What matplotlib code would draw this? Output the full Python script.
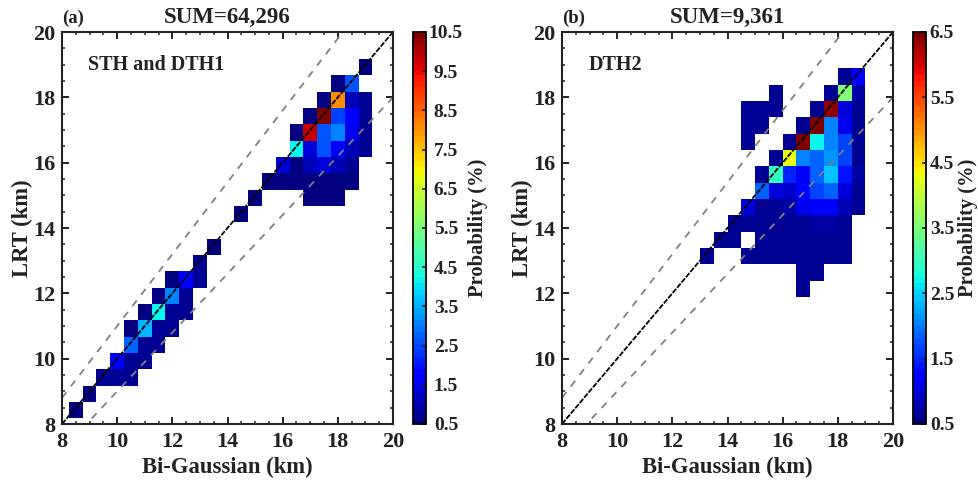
import numpy as np
import matplotlib
matplotlib.use("Agg")
import matplotlib.pyplot as plt
plt.rcParams["font.family"]=["Liberation Serif","DejaVu Serif"]
plt.rcParams["font.weight"]="bold"
n=np.nan
# probability (%), rows from top to bottom, columns left to right
xstart_a=8.25
ystart_a=8.17
vals_a=[
[n,n,n,n,n,n,n,n,n,n,n,n,n,n,n,n,n,n,n,n,n,0.6],
[n,n,n,n,n,n,n,n,n,n,n,n,n,n,n,n,n,n,n,0.6,2.6,n],
[n,n,n,n,n,n,n,n,n,n,n,n,n,n,n,n,n,n,0.6,8.0,1.1,0.7],
[n,n,n,n,n,n,n,n,n,n,n,n,n,n,n,n,n,0.6,10.5,2.5,1.6,0.7],
[n,n,n,n,n,n,n,n,n,n,n,n,n,n,n,n,0.6,9.8,2.6,3.0,1.5,0.7],
[n,n,n,n,n,n,n,n,n,n,n,n,n,n,n,n,4.2,1.4,2.6,1.7,1.1,0.7],
[n,n,n,n,n,n,n,n,n,n,n,n,n,n,n,1.4,0.6,1.0,1.3,1.0,0.8,n],
[n,n,n,n,n,n,n,n,n,n,n,n,n,n,0.6,0.6,0.6,0.6,0.6,0.6,0.6,n],
[n,n,n,n,n,n,n,n,n,n,n,n,n,0.6,n,n,n,0.6,0.6,0.6,n,n],
[n,n,n,n,n,n,n,n,n,n,n,n,0.6,n,n,n,n,n,n,n,n,n],
[n]*22,
[n,n,n,n,n,n,n,n,n,n,0.6,n,n,n,n,n,n,n,n,n,n,n],
[n,n,n,n,n,n,n,n,n,0.7,n,n,n,n,n,n,n,n,n,n,n,n],
[n,n,n,n,n,n,n,0.6,1.7,0.7,n,n,n,n,n,n,n,n,n,n,n,n],
[n,n,n,n,n,n,0.6,3.0,0.7,n,n,n,n,n,n,n,n,n,n,n,n,n],
[n,n,n,n,n,0.6,4.2,0.7,0.7,n,n,n,n,n,n,n,n,n,n,n,n,n],
[n,n,n,n,0.6,3.6,0.7,0.7,n,n,n,n,n,n,n,n,n,n,n,n,n,n],
[n,n,n,n,2.7,0.7,0.7,n,n,n,n,n,n,n,n,n,n,n,n,n,n,n],
[n,n,n,1.6,0.7,0.7,n,n,n,n,n,n,n,n,n,n,n,n,n,n,n,n],
[n,n,0.8,0.7,0.7,n,n,n,n,n,n,n,n,n,n,n,n,n,n,n,n,n],
[n,0.6,n,n,n,n,n,n,n,n,n,n,n,n,n,n,n,n,n,n,n,n],
[0.6,n,n,n,n,n,n,n,n,n,n,n,n,n,n,n,n,n,n,n,n,n],
]
xstart_b=13.0
ystart_b=11.89
vals_b=[
[n,n,n,n,n,n,n,n,n,n,0.6,1.16],
[n,n,n,n,n,0.6,n,n,n,0.6,3.5,0.7],
[n,n,n,0.6,0.6,0.6,n,n,0.6,6.4,1.0,0.6],
[n,n,n,0.6,0.6,n,n,0.6,6.5,2.0,1.15,0.6],
[n,n,n,0.6,n,n,0.6,6.5,2.7,2.0,1.65,0.6],
[n,n,n,n,n,0.6,4.3,2.05,1.9,2.1,1.7,0.6],
[n,n,n,n,0.6,3.0,1.5,1.2,1.9,2.4,1.4,0.7],
[n,n,n,n,1.9,1.0,0.9,1.3,1.7,1.9,1.0,0.6],
[n,n,n,1.0,0.6,0.6,0.7,1.15,1.2,1.2,0.85,0.6],
[n,n,0.6,0.6,0.6,0.6,0.6,0.6,0.7,0.7,0.65,n],
[n,0.6,0.6,n,0.6,0.6,0.6,0.6,0.6,0.6,0.6,n],
[0.6,n,n,0.6,0.6,0.6,0.6,0.6,0.6,0.6,0.6,n],
[n,n,n,n,n,n,n,0.6,0.6,n,n,n],
[n,n,n,n,n,n,n,0.6,n,n,n,n],
]
sums=["SUM=64,296","SUM=9,361"]
panels=["(a)","(b)"]
notes=["STH and DTH1","DTH2"]
vmaxs=[10.5,6.5]
cbpads=[14.4,11.5]
cblabelx=[478,968]
cmap=plt.get_cmap("jet",64)
fig=plt.figure(figsize=(9.79,4.84),dpi=100)
W,H=979,484
def axbox(x0,x1,y0,y1):
    return [x0/W,1-y1/H,(x1-x0)/W,(y1-y0)/H]
def panel(x0,cx0,vals,xs,ys,i):
    ax=fig.add_axes(axbox(x0,x0+331,32,424))
    vals=np.array(vals)[::-1]
    xe=xs+0.5*np.arange(vals.shape[1]+1)
    ye=ys+0.5*np.arange(vals.shape[0]+1)
    pc=ax.pcolormesh(xe,ye,np.ma.masked_invalid(vals),cmap=cmap,vmin=0.5,vmax=vmaxs[i])
    line=np.array([8,20])
    ax.plot(line,line,color="k",lw=1.3,ls=(0,(3,0.8)))
    ax.plot(line,line*1.1,color="gray",lw=1.3,ls=(0,(4,4)))
    ax.plot(line,line*0.9,color="gray",lw=1.3,ls=(0,(4,4)))
    ax.set_xlim(8,20)
    ax.set_ylim(8,20)
    ax.set_xticks(np.arange(8,21,2))
    ax.set_yticks(np.arange(8,21,2))
    ax.set_xticks(np.arange(8,20.1,0.5),minor=True)
    ax.set_yticks(np.arange(8,20.1,0.5),minor=True)
    ax.tick_params(which="major",direction="in",top=True,right=True,length=5,width=1.4,labelsize=16,colors="#222222",pad=5)
    ax.tick_params(which="minor",direction="in",top=True,right=True,length=2.5,width=1.1,colors="#222222")
    ax.tick_params(axis="x",which="major",pad=6)
    for s in ax.spines.values():
        s.set_linewidth(1.5)
        s.set_color("#222222")
    ax.set_xlabel("Bi-Gaussian (km)",fontsize=16.3,fontweight="bold",labelpad=3,color="#222222")
    ax.set_ylabel("LRT (km)",fontsize=16.3,fontweight="bold",labelpad=0,color="#222222")
    ax.text(0.5,1.01,sums[i],transform=ax.transAxes,ha="center",va="bottom",fontsize=16.5,fontweight="bold",color="#222222")
    ax.text(0,1.012,panels[i],transform=ax.transAxes,ha="left",va="bottom",fontsize=13.5,fontweight="bold",color="#222222")
    ax.text(0.08,0.915,notes[i],transform=ax.transAxes,ha="left",va="center",fontsize=14.5,fontweight="bold",color="#222222")
    cax=fig.add_axes(axbox(cx0,cx0+13,32,424))
    cb=fig.colorbar(pc,cax=cax)
    cb.set_ticks(np.arange(0.5,vmaxs[i]+0.1,1))
    cb.set_ticklabels([f"{v:.1f}" for v in np.arange(0.5,vmaxs[i]+0.1,1)])
    cb.ax.tick_params(direction="in",length=3,width=1.2,labelsize=14,pad=cbpads[i],color="#222222",labelcolor="#222222")
    for t in cb.ax.get_yticklabels():
        t.set_ha("center")
    cb.outline.set_linewidth(1.3)
    fig.text(cblabelx[i]/W,1-228/H,"Probability (%)",rotation=90,ha="center",va="center",fontsize=14.8,fontweight="bold",color="#222222")
panel(62,413,vals_a,xstart_a,ystart_a,0)
panel(562,913,vals_b,xstart_b,ystart_b,1)
fig.savefig("out.png",dpi=100)
